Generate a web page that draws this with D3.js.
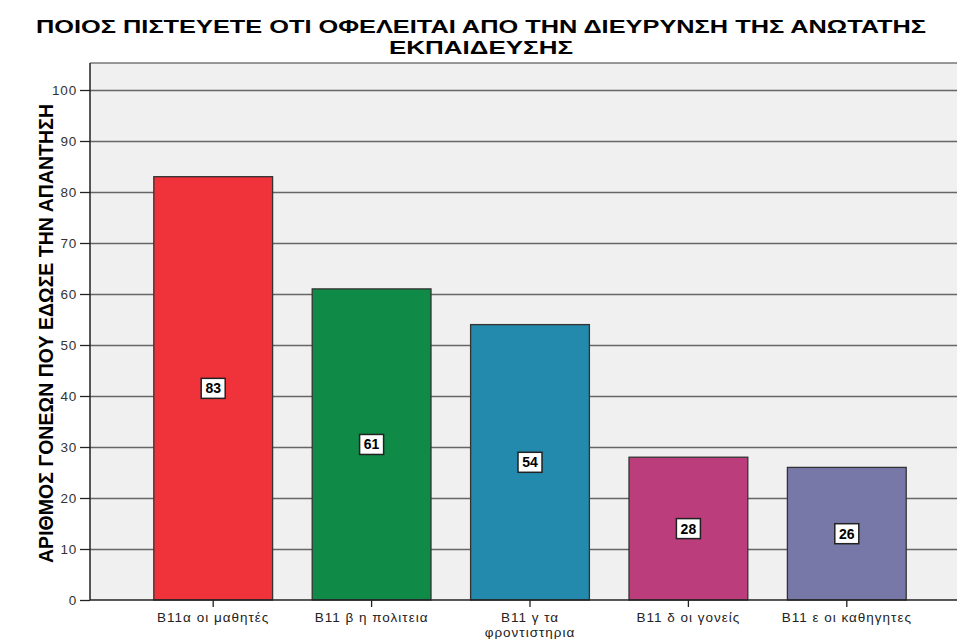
<!DOCTYPE html>
<html>
<head>
<meta charset="utf-8">
<script src="https://cdn.jsdelivr.net/npm/d3@7"></script>
<style>
  body { margin: 0; background: #fff; }
  svg text { font-family: "Liberation Sans", Arial, sans-serif; }
</style>
</head>
<body>
<div id="chart"></div>
<script>
const categories = [
  ["B11α οι μαθητές"],
  ["B11 β η πολιτεια"],
  ["B11 γ τα", "φροντιστηρια"],
  ["B11 δ οι γονείς"],
  ["B11 ε οι καθηγητες"]
];
const counts = [83, 61, 54, 28, 26];
const colors = ["#f0323a", "#0f8a47", "#2389ad", "#bb3d7b", "#7878a8"];
const yTicks = [0, 10, 20, 30, 40, 50, 60, 70, 80, 90, 100];
const titleLines = ["ΠΟΙΟΣ ΠΙΣΤΕΥΕΤΕ ΟΤΙ ΟΦΕΛΕΙΤΑΙ ΑΠΟ ΤΗΝ ΔΙΕΥΡΥΝΣΗ ΤΗΣ ΑΝΩΤΑΤΗΣ", "ΕΚΠΑΙΔΕΥΣΗΣ"];
const titleWidths = [890, 184];
const yTitle = "ΑΡΙΘΜΟΣ ΓΟΝΕΩΝ ΠΟΥ ΕΔΩΣΕ ΤΗΝ ΑΠΑΝΤΗΣΗ";

const width = 957, height = 639;
const plot = { left: 90, right: 957, top: 63, bottom: 600 };

const svg = d3.select("#chart").append("svg")
  .attr("width", width)
  .attr("height", height);

const y = d3.scaleLinear().domain([0, 100]).range([plot.bottom, 90]);
const x = d3.scaleBand()
  .domain(d3.range(counts.length))
  .range([134, 926])
  .paddingInner(0.25)
  .paddingOuter(0.125);

/* plot background */
svg.append("rect")
  .attr("x", plot.left).attr("y", plot.top)
  .attr("width", plot.right - plot.left)
  .attr("height", plot.bottom - plot.top)
  .attr("fill", "#f0f0f0");

svg.append("line")
  .attr("x1", plot.left).attr("x2", plot.right)
  .attr("y1", plot.top).attr("y2", plot.top)
  .attr("stroke", "#777").attr("stroke-width", 1.5);

/* y axis with gridlines */
const yAxis = svg.append("g")
  .attr("transform", `translate(${plot.left},0)`)
  .call(d3.axisLeft(y).tickValues(yTicks).tickSize(10).tickPadding(3).tickSizeOuter(0));
yAxis.select(".domain").remove();
yAxis.selectAll("line").attr("stroke", "#222").attr("stroke-width", 1.3);
yAxis.selectAll("text")
  .style("font-size", "13.5px")
  .style("letter-spacing", "0.8px")
  .attr("fill", "#333");
yAxis.selectAll(".tick")
  .filter((d) => d > 0)
  .append("line")
  .attr("x1", 0).attr("x2", plot.right - plot.left)
  .attr("stroke", "#666").attr("stroke-width", 1.5);

/* bars */
const bars = svg.append("g");
bars.selectAll("rect")
  .data(counts)
  .enter()
  .append("rect")
  .attr("x", (d, i) => x(i))
  .attr("y", (d) => y(d))
  .attr("width", x.bandwidth())
  .attr("height", (d) => y(0) - y(d))
  .attr("fill", (d, i) => colors[i])
  .attr("stroke", "#333")
  .attr("stroke-width", 1.3);

/* value labels */
const labels = svg.append("g");
counts.forEach((d, i) => {
  const cx = x(i) + x.bandwidth() / 2;
  const cy = (y(d) + y(0)) / 2;
  const g = labels.append("g").attr("transform", `translate(${cx},${cy})`);
  g.append("rect")
    .attr("x", -12).attr("y", -10)
    .attr("width", 24).attr("height", 20)
    .attr("fill", "#fff")
    .attr("stroke", "#222").attr("stroke-width", 1.5);
  g.append("text")
    .attr("text-anchor", "middle")
    .attr("dy", "0.36em")
    .style("font-size", "14px")
    .style("font-weight", "bold")
    .text(d);
});

/* axis lines */
svg.append("line")
  .attr("x1", plot.left).attr("x2", plot.left)
  .attr("y1", plot.top).attr("y2", plot.bottom)
  .attr("stroke", "#222").attr("stroke-width", 1.5);

const xAxis = svg.append("g")
  .attr("transform", `translate(0,${plot.bottom})`)
  .call(d3.axisBottom(x).tickSize(7).tickSizeOuter(0).tickFormat(""));
xAxis.select(".domain").remove();
xAxis.selectAll("line").attr("stroke", "#222").attr("stroke-width", 1.3);
svg.append("line")
  .attr("x1", plot.left).attr("x2", plot.right)
  .attr("y1", plot.bottom).attr("y2", plot.bottom)
  .attr("stroke", "#222").attr("stroke-width", 1.5);

xAxis.selectAll(".tick").each(function (d) {
  const t = d3.select(this).append("text")
    .attr("text-anchor", "middle")
    .attr("fill", "#222")
    .style("font-size", "13.5px")
    .style("letter-spacing", "1px");
  categories[d].forEach((line, k) => {
    t.append("tspan").attr("x", 0).attr("y", 22 + k * 15).text(line);
  });
});

/* title */
titleLines.forEach((line, k) => {
  svg.append("text")
    .attr("x", 481 - titleWidths[k] / 2)
    .attr("y", 33 + k * 21)
    .attr("textLength", titleWidths[k])
    .attr("lengthAdjust", "spacingAndGlyphs")
    .style("font-size", "18.5px")
    .style("font-weight", "bold")
    .text(line);
});

/* y axis title */
svg.append("text")
  .attr("transform", `translate(53,${(104 + 563) / 2}) rotate(-90)`)
  .attr("x", -(563 - 104) / 2)
  .attr("textLength", 563 - 104)
  .attr("lengthAdjust", "spacingAndGlyphs")
  .style("font-size", "20px")
  .style("font-weight", "bold")
  .text(yTitle);
</script>
</body>
</html>
